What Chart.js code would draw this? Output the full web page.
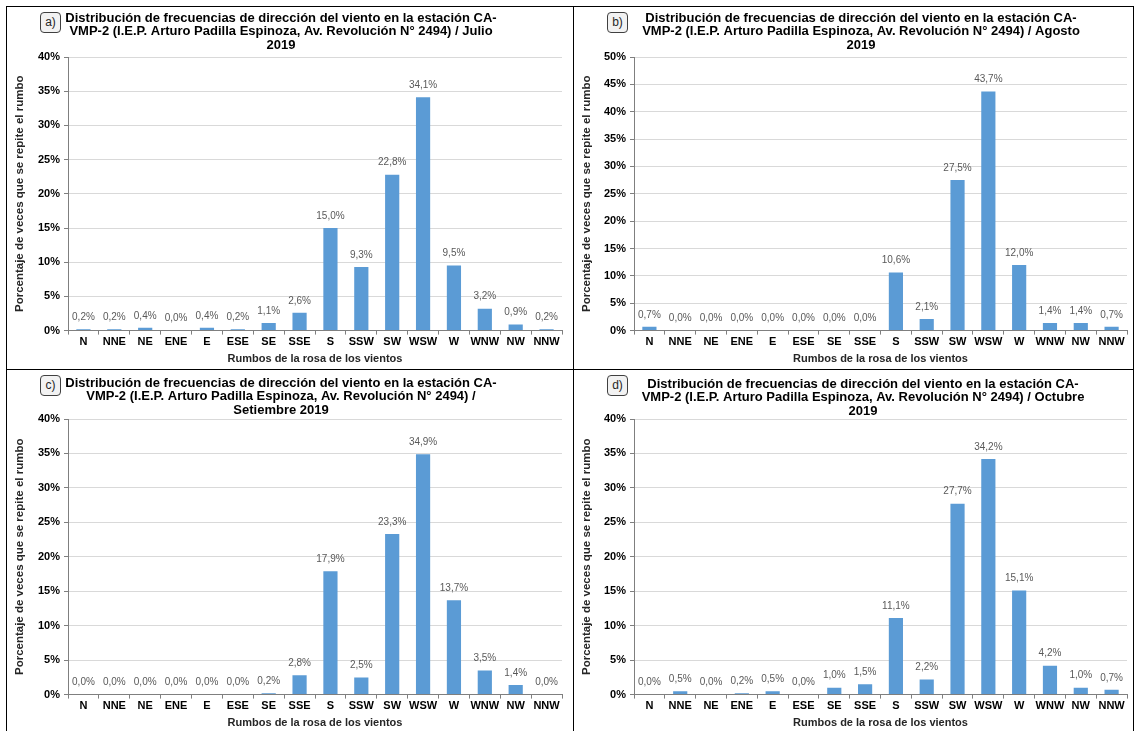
<!DOCTYPE html>
<html>
<head>
<meta charset="utf-8">
<script src="https://cdn.jsdelivr.net/npm/chart.js@4.4.0/dist/chart.umd.min.js"></script>
<style>
body { margin: 0; background: #fff; width: 1136px; height: 731px; overflow: hidden; font-family: 'Liberation Sans', Arial, sans-serif; }
.panel { position: absolute; border: 1px solid #000; box-sizing: border-box; background: #fff; }
.panel canvas { position: absolute; left: 0; top: 0; }
.badge { position: absolute; width: 21px; height: 21px; border: 1px solid #404040; border-radius: 4px; background: #f2f2f2; box-sizing: border-box;
         font: 12px 'Liberation Sans', Arial, sans-serif; line-height: 19px; text-align: center; color: #262626; }
</style>
</head>
<body>
<div class="panel" style="left:6px;top:6px;width:569px;height:365px"><canvas id="g1" width="567" height="363"></canvas><div class="badge" style="left:33px;top:5px">a)</div></div>
<div class="panel" style="left:573px;top:6px;width:561px;height:365px"><canvas id="g2" width="559" height="363"></canvas><div class="badge" style="left:33px;top:5px">b)</div></div>
<div class="panel" style="left:6px;top:369px;width:569px;height:366px"><canvas id="g3" width="567" height="364"></canvas><div class="badge" style="left:33px;top:5px">c)</div></div>
<div class="panel" style="left:573px;top:369px;width:561px;height:366px"><canvas id="g4" width="559" height="364"></canvas><div class="badge" style="left:33px;top:5px">d)</div></div>

<script>
const FUENTE = "'Liberation Sans', Arial, sans-serif";

// Datos
const rumbos = ['N', 'NNE', 'NE', 'ENE', 'E', 'ESE', 'SE', 'SSE', 'S', 'SSW', 'SW', 'WSW', 'W', 'WNW', 'NW', 'NNW'];
const julio = [0.2, 0.2, 0.4, 0.0, 0.4, 0.2, 1.1, 2.6, 15.0, 9.3, 22.8, 34.1, 9.5, 3.2, 0.9, 0.2];
const agosto = [0.7, 0.0, 0.0, 0.0, 0.0, 0.0, 0.0, 0.0, 10.6, 2.1, 27.5, 43.7, 12.0, 1.4, 1.4, 0.7];
const setiembre = [0.0, 0.0, 0.0, 0.0, 0.0, 0.0, 0.2, 2.8, 17.9, 2.5, 23.3, 34.9, 13.7, 3.5, 1.4, 0.0];
const octubre = [0.0, 0.5, 0.0, 0.2, 0.5, 0.0, 1.0, 1.5, 11.1, 2.2, 27.7, 34.2, 15.1, 4.2, 1.0, 0.7];

const tituloBase = 'Distribución de frecuencias de dirección del viento en la estación CA-';
const titulos = {
    g1: [tituloBase, 'VMP-2 (I.E.P. Arturo Padilla Espinoza, Av. Revolución N° 2494) / Julio', '2019'],
    g2: [tituloBase, 'VMP-2 (I.E.P. Arturo Padilla Espinoza, Av. Revolución N° 2494) / Agosto', '2019'],
    g3: [tituloBase, 'VMP-2 (I.E.P. Arturo Padilla Espinoza, Av. Revolución N° 2494) /', 'Setiembre 2019'],
    g4: [tituloBase, 'VMP-2 (I.E.P. Arturo Padilla Espinoza, Av. Revolución N° 2494) / Octubre', '2019']
};
const tituloY = 'Porcentaje de veces que se repite el rumbo';
const tituloX = 'Rumbos de la rosa de los vientos';

// Etiquetas de valor sobre cada barra
const etiquetas = {
    id: 'etiquetas',
    afterDatasetsDraw(chart) {
        const ctx = chart.ctx;
        const valores = chart.data.datasets[0].data;
        ctx.save();
        ctx.font = '10px ' + FUENTE;
        ctx.fillStyle = '#595959';
        ctx.textAlign = 'center';
        ctx.textBaseline = 'middle';
        chart.getDatasetMeta(0).data.forEach((barra, i) => {
            ctx.fillText(valores[i].toFixed(1).replace('.', ',') + '%', barra.x, barra.y - 12);
        });
        ctx.restore();
    }
};

// Título del panel (centrado como en el original, no sobre el área del gráfico)
const tituloPanel = {
    id: 'tituloPanel',
    afterDraw(chart, args, opts) {
        const ctx = chart.ctx;
        ctx.save();
        ctx.font = 'bold 13px ' + FUENTE;
        ctx.fillStyle = '#000';
        ctx.textAlign = 'center';
        ctx.textBaseline = 'middle';
        opts.lineas.forEach((t, i) => ctx.fillText(t, opts.cx, opts.y0 + i * 13.6));
        ctx.restore();
    }
};

function crearGrafico(id, valores, yMax, anchoY, padDer, padArriba, cx, y0) {
    const ctx = document.getElementById(id);
    new Chart(ctx, {
        type: 'bar',
        data: {
            labels: rumbos,
            datasets: [{
                data: valores,
                backgroundColor: '#5b9bd5',
                barPercentage: 0.46,
                categoryPercentage: 1
            }]
        },
        options: {
            responsive: false,
            animation: false,
            layout: { padding: { left: 0, right: padDer, top: padArriba, bottom: 0 } },
            plugins: {
                legend: { display: false },
                tooltip: { enabled: false },
                title: { display: false },
                tituloPanel: { lineas: titulos[id], cx: cx, y0: y0 }
            },
            scales: {
                x: {
                    grid: { drawOnChartArea: false, offset: true, tickLength: 4, tickColor: '#7f7f7f' },
                    border: { color: '#7f7f7f' },
                    ticks: { color: '#000', font: { family: FUENTE, size: 11, weight: 'bold' }, padding: 1, autoSkip: false, maxRotation: 0 },
                    title: { display: true, text: tituloX, color: '#262626', font: { family: FUENTE, size: 11, weight: 'bold' }, padding: { top: 3, bottom: 4 } }
                },
                y: {
                    min: 0,
                    max: yMax,
                    ticks: { stepSize: 5, callback: v => v + '%', color: '#000', font: { family: FUENTE, size: 11, weight: 'bold' }, padding: 4 },
                    grid: { color: '#d9d9d9', tickColor: '#7f7f7f', tickLength: 4 },
                    border: { color: '#7f7f7f' },
                    title: { display: true, text: tituloY, color: '#262626', font: { family: FUENTE, size: 11.5, weight: 'bold' }, padding: { top: 6, bottom: 0 } },
                    afterFit: s => { s.width = anchoY; }
                }
            }
        },
        plugins: [etiquetas, tituloPanel]
    });
}

document.addEventListener('DOMContentLoaded', () => {
    crearGrafico('g1', julio, 40, 61, 12, 50, 274, 11);
    crearGrafico('g2', agosto, 50, 60, 6, 50, 287, 11);
    crearGrafico('g3', setiembre, 40, 61, 12, 49, 274, 13);
    crearGrafico('g4', octubre, 40, 60, 6, 49, 289, 14);
});
</script>
</body>
</html>
